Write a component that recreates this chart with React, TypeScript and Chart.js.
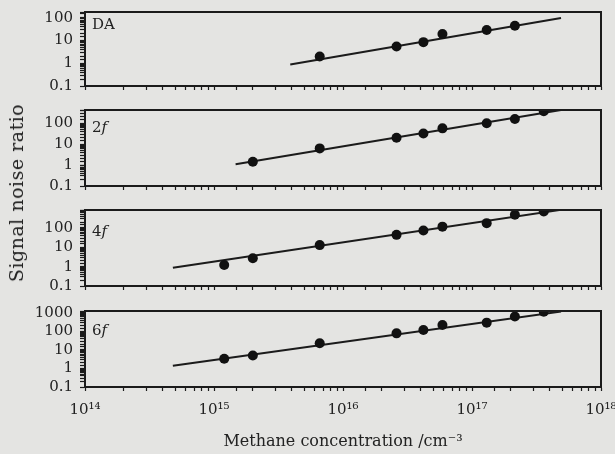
import React, { useEffect, useRef } from "react";
import { Chart, registerables } from "chart.js";
Chart.register(...registerables);

// ---- data ----
const concentrations = [1.2e15, 2e15, 6.6e15, 2.6e16, 4.2e16, 5.9e16, 1.3e17, 2.15e17, 3.6e17];
const daValues = [null, null, 2.0, 5.5, 8.5, 19.5, 29, 45, null];
const f2Values = [null, 1.44, 6.2, 20, 32, 56, 98, 155, 370];
const f4Values = [1.22, 2.7, 13, 44, 74, 117, 178, 480, 710];
const f6Values = [3.3, 5.0, 23, 78, 117, 218, 295, 630, 1150];

const daFitX = [3.9e15, 4.9e17];
const daFitY = [0.88, 98];
const f2FitX = [1.47e15, 4.9e17];
const f2FitY = [1.08, 420];
const f4FitX = [4.8e14, 4.9e17];
const f4FitY = [0.89, 870];
const f6FitX = [4.8e14, 4.9e17];
const f6FitY = [1.4, 1170];

const yMaxes = [180, 420, 850, 1250];
const panelNames = ["DA", "2", "4", "6"];
const panelItalic = ["", "f", "f", "f"];
const xRange = [1e14, 1e18];
const yMin = 0.1;

const xTitle = "Methane concentration /cm\u207B\u00B3";
const yTitle = "Signal noise ratio";

// ---- layout / style ----
const W = 615;
const H = 454;
const PLOT_LEFT = 85;
const PLOT_RIGHT = 601;
const panelTops = [12, 110, 210, 311];
const panelBottoms = [86, 186, 286, 387];
const labelDy = [13, 18, 22, 20];
const BG = "#e4e4e2";
const INK = "#1b1b1b";
const FONT = "'DejaVu Serif', serif";

const SUP: Record<string, string> = {
  "0": "\u2070", "1": "\u00B9", "2": "\u00B2", "3": "\u00B3", "4": "\u2074",
  "5": "\u2075", "6": "\u2076", "7": "\u2077", "8": "\u2078", "9": "\u2079",
};

const isPow10 = (v: number) => {
  const l = Math.log10(v);
  return Math.abs(l - Math.round(l)) < 1e-6;
};

const framePlugin = {
  id: "frame",
  afterDraw(chart: any, _args: any, opts: any) {
    const { ctx, chartArea: a } = chart;
    ctx.save();
    ctx.strokeStyle = INK;
    ctx.lineWidth = 2;
    ctx.strokeRect(a.left, a.top, a.right - a.left, a.bottom - a.top);
    ctx.fillStyle = "#222";
    ctx.textBaseline = "middle";
    ctx.textAlign = "left";
    ctx.font = `15px ${FONT}`;
    let x = a.left + 7;
    const y = a.top + opts.dy;
    ctx.fillText(opts.name, x, y);
    x += ctx.measureText(opts.name).width;
    if (opts.italic) {
      ctx.font = `italic 15px ${FONT}`;
      ctx.fillText(opts.italic, x, y);
    }
    ctx.restore();
  },
};

function Panel({ idx, values, fitX, fitY }: { idx: number; values: (number | null)[]; fitX: number[]; fitY: number[] }) {
  const ref = useRef<HTMLCanvasElement>(null);
  const isLast = idx === 3;
  const padTop = 12;
  const xAxisH = isLast ? H - panelBottoms[idx] : 8;
  const top = panelTops[idx] - padTop;
  const height = padTop + (panelBottoms[idx] - panelTops[idx]) + xAxisH;

  useEffect(() => {
    if (!ref.current) return;
    const points = concentrations
      .map((c, i) => ({ x: c, y: values[i] }))
      .filter((p) => p.y !== null) as { x: number; y: number }[];
    const fit = fitX.map((x, i) => ({ x, y: fitY[i] }));
    const chart = new Chart(ref.current, {
      type: "scatter",
      data: {
        datasets: [
          {
            data: fit,
            showLine: true,
            borderColor: INK,
            borderWidth: 2,
            pointRadius: 0,
            order: 2,
          } as any,
          {
            data: points,
            backgroundColor: "#111",
            borderColor: "#111",
            pointRadius: 5,
            pointBorderWidth: 0,
            order: 1,
          },
        ],
      },
      options: {
        animation: false,
        responsive: false,
        events: [],
        layout: { padding: { top: padTop, left: 0, right: W - PLOT_RIGHT, bottom: 0 } },
        plugins: {
          legend: { display: false },
          tooltip: { enabled: false },
          frame: { dy: labelDy[idx], name: panelNames[idx], italic: panelItalic[idx] },
        } as any,
        scales: {
          x: {
            type: "logarithmic",
            min: xRange[0],
            max: xRange[1],
            grid: { drawOnChartArea: false, drawTicks: true, tickLength: 4, color: INK, tickWidth: 1.2 },
            border: { display: true, color: INK, width: 2 },
            ticks: {
              autoSkip: false,
              maxRotation: 0,
              padding: 10,
              color: "#222",
              font: { family: FONT, size: 15 },
              callback: (v: any) => {
                if (!isLast) return "";
                const n = Number(v);
                if (!isPow10(n)) return "";
                const e = String(Math.round(Math.log10(n)));
                return "10" + e.split("").map((d) => SUP[d]).join("");
              },
            },
            afterFit: (s: any) => {
              s.height = xAxisH;
              s.paddingLeft = 0;
              s.paddingRight = 0;
            },
          },
          y: {
            type: "logarithmic",
            min: yMin,
            max: yMaxes[idx],
            grid: { drawOnChartArea: false, drawTicks: true, tickLength: 5, color: INK, tickWidth: 1.2 },
            border: { display: true, color: INK, width: 2 },
            ticks: {
              autoSkip: false,
              padding: 7,
              color: "#222",
              font: { family: FONT, size: 15 },
              callback: (v: any) => {
                const n = Number(v);
                if (!isPow10(n) || n > yMaxes[idx]) return "";
                return n < 1 ? n.toFixed(1) : String(Math.round(n));
              },
            },
            afterFit: (s: any) => {
              s.width = PLOT_LEFT;
              s.paddingTop = 0;
              s.paddingBottom = 0;
            },
          },
        },
      },
      plugins: [framePlugin],
    });
    return () => chart.destroy();
  }, []);

  return (
    <canvas
      ref={ref}
      width={W}
      height={height}
      style={{ position: "absolute", left: 0, top, width: W, height }}
    />
  );
}

export default function App() {
  return (
    <div style={{ position: "absolute", left: 0, top: 0, width: W, height: H, background: BG, overflow: "hidden" }}>
      <Panel idx={0} values={daValues} fitX={daFitX} fitY={daFitY} />
      <Panel idx={1} values={f2Values} fitX={f2FitX} fitY={f2FitY} />
      <Panel idx={2} values={f4Values} fitX={f4FitX} fitY={f4FitY} />
      <Panel idx={3} values={f6Values} fitX={f6FitX} fitY={f6FitY} />
      <div
        style={{
          position: "absolute",
          left: 16,
          top: 193,
          transform: "translate(-50%, -50%) rotate(-90deg)",
          whiteSpace: "nowrap",
          font: `19px ${FONT}`,
          letterSpacing: "0.5px",
          color: "#222",
        }}
      >
        {yTitle}
      </div>
      <div
        style={{
          position: "absolute",
          left: (PLOT_LEFT + PLOT_RIGHT) / 2,
          top: 440,
          transform: "translate(-50%, -50%)",
          whiteSpace: "nowrap",
          font: `16px ${FONT}`,
          color: "#222",
        }}
      >
        {xTitle}
      </div>
    </div>
  );
}
